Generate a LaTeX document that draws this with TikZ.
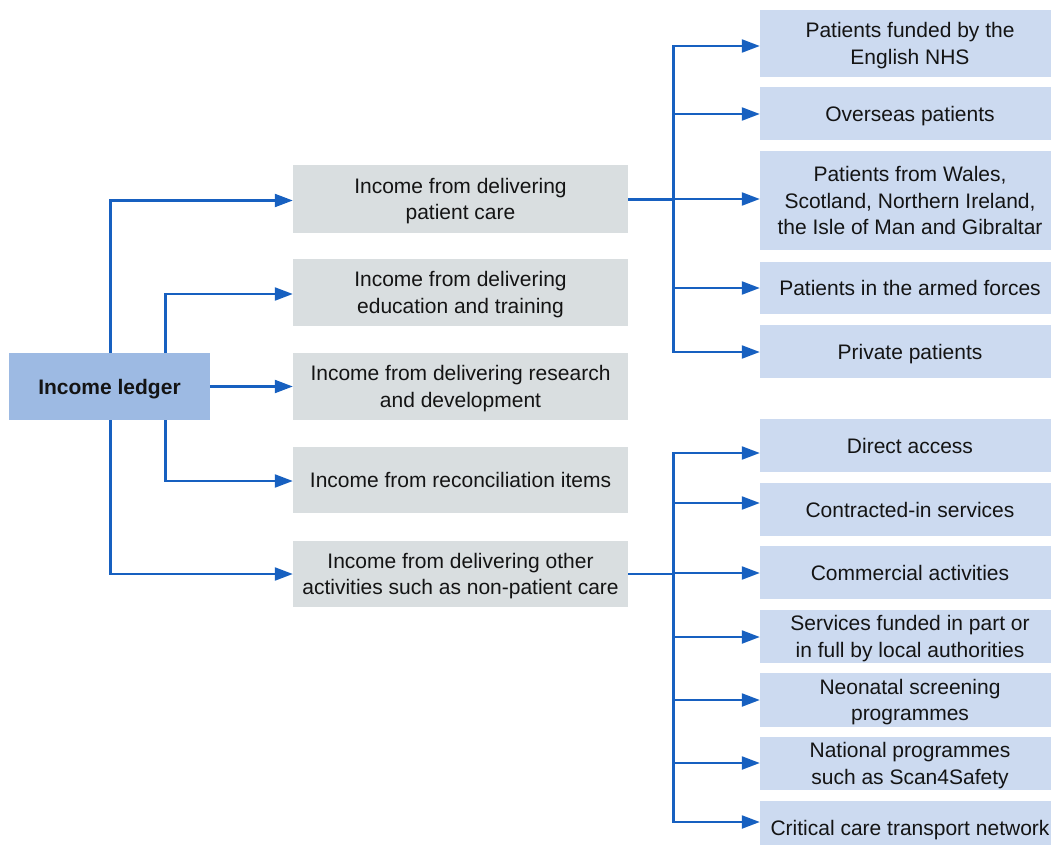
\documentclass[tikz,border=0pt]{standalone}
\usepackage{fontspec}
\setmainfont{Liberation Sans}
\usetikzlibrary{arrows.meta}
\definecolor{ledgerfill}{HTML}{9DBAE3}
\definecolor{midfill}{HTML}{D9DEE0}
\definecolor{rightfill}{HTML}{CCDAF0}
\definecolor{arrowblue}{HTML}{1760C0}
\definecolor{txt}{HTML}{141414}
% first line height = cap height + 5pt, last line depth = 5pt: text block centred on its capitals
\newcommand\boxtxt[1]{\rule{0pt}{20.04pt}#1\rule[-5pt]{0pt}{5pt}}
\tikzset{
  base/.style={inner sep=0pt, align=center, text=txt, font=\fontsize{21}{26.3}\selectfont},
  ledger/.style={base, fill=ledgerfill, minimum width=201pt, minimum height=67pt, font=\fontsize{21}{26.3}\selectfont\bfseries},
  midbox/.style={base, fill=midfill, minimum width=335pt, minimum height=67pt},
  rightbox/.style={base, fill=rightfill, minimum width=300pt},
  arr/.style={draw=arrowblue, line width=2.2pt, -{Triangle[length=18pt,width=13pt]}},
  link/.style={draw=arrowblue, line width=2.2pt}
}
\begin{document}
\begin{tikzpicture}[x=1pt,y=-1pt]
\useasboundingbox (0,0) rectangle (1051,845);
% root
\node[ledger] (ledger) at (109.5,386.5) {\boxtxt{Income ledger}};
% middle column
\node[midbox, minimum height=68pt] (pc) at (460.5,199) {\boxtxt{Income from delivering\\patient care}};
\node[midbox] (edu) at (460.5,292.5) {\boxtxt{Income from delivering\\education and training}};
\node[midbox] (rd) at (460.5,386.5) {\boxtxt{Income from delivering research\\and development}};
\node[midbox, minimum height=66pt] (rec) at (460.5,480) {\boxtxt{Income from reconciliation items}};
\node[midbox, minimum height=66pt] (oth) at (460.5,574) {\boxtxt{Income from delivering other\\activities such as non-patient care}};
% right column, top group
\node[rightbox, minimum height=67pt] (b1) at (910,43.5) {\boxtxt{Patients funded by the\\English NHS}};
\node[rightbox, minimum height=53pt] (b2) at (910,113.5) {\boxtxt{Overseas patients}};
\node[rightbox, minimum height=99pt] (b3) at (910,200.5) {\boxtxt{Patients from Wales,\\Scotland, Northern Ireland,\\the Isle of Man and Gibraltar}};
\node[rightbox, minimum height=52pt] (b4) at (910,288) {\boxtxt{Patients in the armed forces}};
\node[rightbox, minimum height=53pt] (b5) at (910,351.5) {\boxtxt{Private patients}};
% right column, bottom group
\node[rightbox, minimum height=53pt] (c1) at (910,445.5) {\boxtxt{Direct access}};
\node[rightbox, minimum height=53pt] (c2) at (910,509.5) {\boxtxt{Contracted-in services}};
\node[rightbox, minimum height=53pt] (c3) at (910,572.5) {\boxtxt{Commercial activities}};
\node[rightbox, minimum height=53pt] (c4) at (910,636.5) {\boxtxt{Services funded in part or\\in full by local authorities}};
\node[rightbox, minimum height=54pt] (c5) at (910,700) {\boxtxt{Neonatal screening\\programmes}};
\node[rightbox, minimum height=53pt] (c6) at (910,763.5) {\boxtxt{National programmes\\such as Scan4Safety}};
\node[rightbox, minimum height=53pt] (c7) at (910,827.5) {\boxtxt{Critical care transport network}};
% junctions
\coordinate (jt) at (673.5,199.5);
\coordinate (jb) at (673.5,574);
% root connectors
\draw[arr] ([xshift=1pt]ledger.north) |- ([yshift=-1.5pt]pc.west);
\draw[arr] ([xshift=56pt]ledger.north) |- ([yshift=-1.5pt]edu.west);
\draw[arr] (ledger.east) -- (rd.west);
\draw[arr] ([xshift=56pt]ledger.south) |- ([yshift=-1pt]rec.west);
\draw[arr] ([xshift=1pt]ledger.south) |- (oth.west);
% top group
\draw[link] (pc.east |- jt) -- (jt);
\draw[arr] (jt) |- ([yshift=-2.5pt]b1.west);
\draw[arr] (jt) |- ([yshift=-0.5pt]b2.west);
\draw[arr] (jt) |- ([yshift=1.5pt]b3.west);
\draw[arr] (jt) |- (b4.west);
\draw[arr] (jt) |- ([yshift=-0.5pt]b5.west);
% bottom group
\draw[link] (oth.east) -- (jb);
\draw[arr] (jb) |- ([yshift=-7.5pt]c1.west);
\draw[arr] (jb) |- ([yshift=6.5pt]c2.west);
\draw[arr] (jb) |- ([yshift=-0.5pt]c3.west);
\draw[arr] (jb) |- ([yshift=-0.5pt]c4.west);
\draw[arr] (jb) |- (c5.west);
\draw[arr] (jb) |- ([yshift=0.5pt]c6.west);
\draw[arr] (jb) |- ([yshift=5.5pt]c7.west);
\end{tikzpicture}
\end{document}
